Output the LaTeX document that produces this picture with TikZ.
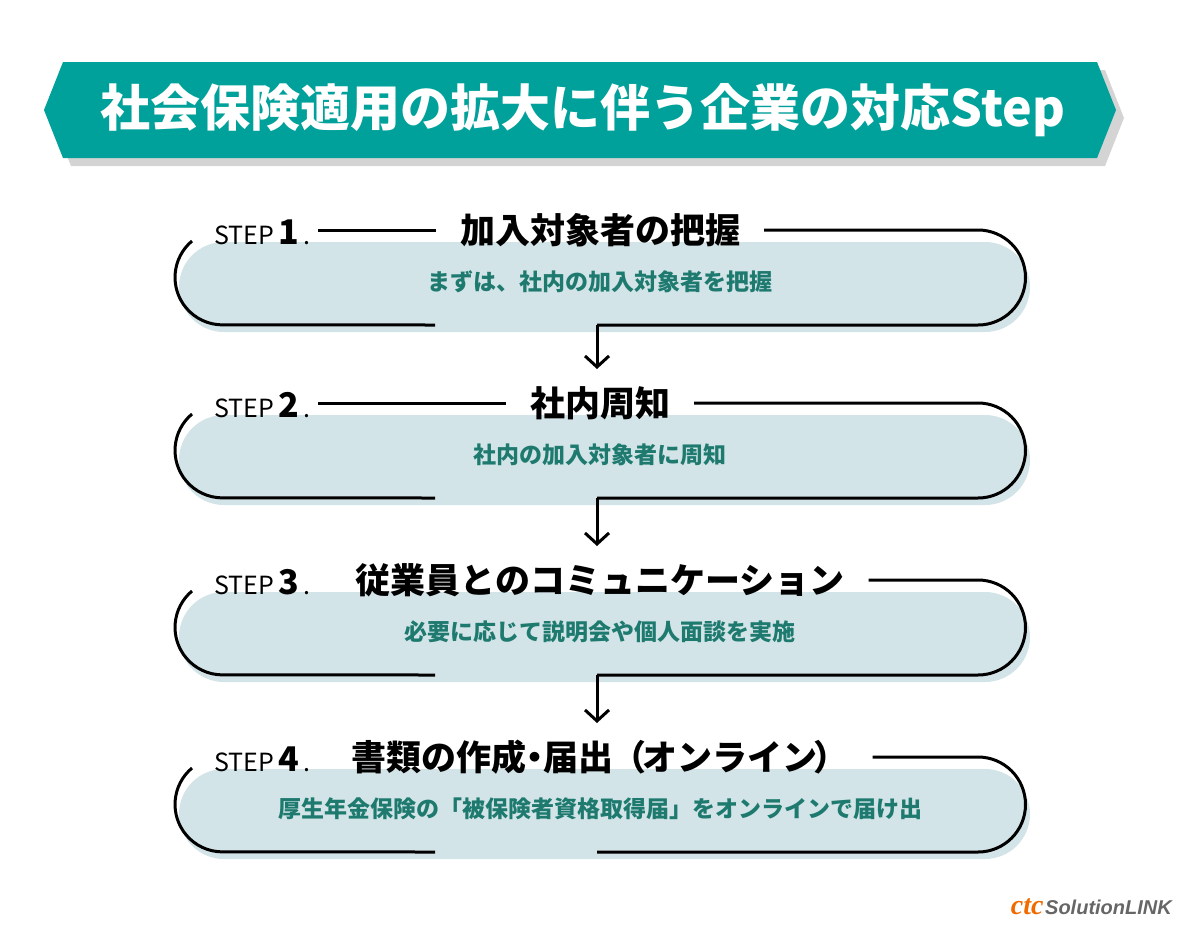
\documentclass[tikz,border=0pt]{standalone}
\usepackage{fontspec}
\setmainfont{Noto Sans CJK JP}
\newfontfamily\logofont{Liberation Sans}
\newfontfamily\ctcfont{Liberation Serif}
\usetikzlibrary{arrows.meta}

\definecolor{bannerteal}{HTML}{00A19A}
\definecolor{subteal}{HTML}{1E7A6F}
\definecolor{boxblue}{HTML}{D2E4E7}
\definecolor{ctcorange}{HTML}{F06A00}

\begin{document}
\begin{tikzpicture}[
    x=1pt, y=-1pt,
    outline/.style={line width=3pt, black},
    steplabel/.style={anchor=west, inner sep=0pt},
    steptitle/.style={font=\fontsize{35}{40}\selectfont\bfseries, inner sep=0pt},
    stepsub/.style={font=\fontsize{23}{28}\selectfont\bfseries, text=subteal},
    downarrow/.style={outline, -{Straight Barb[length=11pt,width=24pt,line width=3pt]}}
  ]
  \useasboundingbox (0,0) rectangle (1200,940);

  % banner
  \fill[black!17] (71,70) -- (1105,70) -- (1124,118) -- (1105,166) -- (71,166) -- (52,118) -- cycle;
  \fill[bannerteal] (63,62) -- (1097,62) -- (1116,110) -- (1097,158) -- (63,158) -- (44,110) -- cycle;
  \node[text=white, font=\fontsize{50}{56}\selectfont\bfseries] (banner) at (583,110) {社会保険適用の拡大に伴う企業の対応Step};

  % steps
  \foreach \n/\T/\ttl/\sub in {
      1/230/加入対象者の把握/まずは、社内の加入対象者を把握,
      2/403/社内周知/社内の加入対象者に周知,
      3/580/従業員とのコミュニケーション/必要に応じて説明会や個人面談を実施,
      4/757/書類の作成\kern-9pt・\kern-9pt届出\kern-2pt（\kern-4ptオンライン\kern-4pt）/厚生年金保険の「被保険者資格取得届」をオンラインで届け出} {
    \fill[boxblue, rounded corners=45pt] (179,\T+12) rectangle (1030,\T+102);
    \node[steplabel] (label\n) at (214,\T+2)
      {\fontsize{25}{30}\selectfont STEP\,{\fontsize{34}{38}\selectfont\bfseries\n}\,.};
    \node[steptitle] (title\n) at (600,\T) {\ttl};
    \node[stepsub] (sub\n) at (600,\T+52) {\sub};
    \coordinate (tl\n) at (192,\T+11);
    \coordinate (tr\n) at (978,\T);
    \coordinate (turn\n) at (597,\T+95);
    % outline pieces
    \draw[outline] (tl\n) arc[start angle=230, end angle=90, radius=47.5] -- (435,\T+95);
    \ifnum\n<3
      \draw[outline] ([xshift=8pt]label\n.east |- tr\n) -- ([xshift=-24pt]title\n.west |- tr\n);
    \fi
    \draw[outline] ([xshift=24pt]title\n.east |- tr\n) -- (tr\n)
      arc[start angle=270, end angle=450, radius=47.5] -- (turn\n);
  }

  \foreach \n/\m in {1/2, 2/3, 3/4}
    \draw[downarrow] (turn\n) -- ([yshift=34pt]turn\n |- tr\m);

  % logo
  \node[anchor=east, inner sep=0pt] (logo) at (1172,907)
    {\textcolor{ctcorange}{\ctcfont\bfseries\itshape\fontsize{28}{30}\selectfont ctc}\,%
     \textcolor{black!60}{\logofont\bfseries\itshape\fontsize{20}{24}\selectfont SolutionLINK}};
\end{tikzpicture}
\end{document}
